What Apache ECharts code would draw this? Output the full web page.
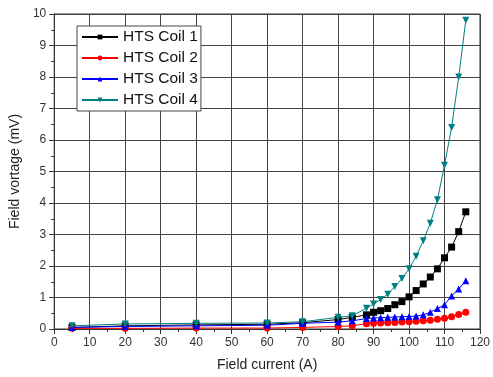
<!DOCTYPE html>
<html>
<head>
<meta charset="utf-8">
<script src="https://cdn.jsdelivr.net/npm/echarts@6/dist/echarts.min.js"></script>
<style>
  html, body { margin: 0; padding: 0; background: #fff; }
  #chart { width: 493px; height: 377px; }
</style>
</head>
<body>
<div id="chart"></div>
<script>
// field current (A)
var current = [5, 20, 40, 60, 70, 80, 84, 88, 90, 92, 94, 96, 98, 100, 102, 104, 106, 108, 110, 112, 114, 116];

// field voltage (mV) per coil
var coil1 = [0.05, 0.10, 0.13, 0.15, 0.20, 0.30, 0.37, 0.45, 0.53, 0.58, 0.65, 0.77, 0.87, 1.02, 1.22, 1.43, 1.65, 1.91, 2.26, 2.60, 3.09, 3.72];
var coil2 = [0.02, 0.02, 0.03, 0.03, 0.05, 0.08, 0.10, 0.17, 0.18, 0.19, 0.20, 0.21, 0.22, 0.23, 0.25, 0.26, 0.28, 0.31, 0.34, 0.39, 0.46, 0.53];
var coil3 = [0.05, 0.08, 0.10, 0.12, 0.18, 0.22, 0.26, 0.33, 0.35, 0.36, 0.37, 0.38, 0.39, 0.40, 0.41, 0.45, 0.53, 0.65, 0.77, 1.05, 1.27, 1.53];
var coil4 = [0.10, 0.16, 0.18, 0.19, 0.23, 0.37, 0.42, 0.66, 0.79, 0.94, 1.10, 1.35, 1.60, 1.91, 2.31, 2.80, 3.36, 4.10, 5.20, 6.40, 8.00, 9.80];

var names = ['HTS Coil 1', 'HTS Coil 2', 'HTS Coil 3', 'HTS Coil 4'];
var colors = ['#000000', '#ff0000', '#0000ff', '#008080'];

function pairs(vals) {
  return current.map(function (c, i) { return [c, vals[i]]; });
}

function makeSeries(idx, vals, symbol, rotate) {
  return {
    name: names[idx],
    type: 'line',
    data: pairs(vals),
    symbol: symbol,
    symbolSize: 7,
    symbolRotate: rotate || 0,
    lineStyle: { width: 1, color: colors[idx] },
    itemStyle: { color: colors[idx] },
    z: 3 + idx
  };
}

var chart = echarts.init(document.getElementById('chart'), null, { renderer: 'canvas' });

var axisFont = { fontFamily: 'Liberation Sans, Arial, sans-serif', color: '#333', fontSize: 12 };

var option = {
  animation: false,
  backgroundColor: '#fff',
  color: colors,
  grid: {
    left: 53, right: 10, top: 14, bottom: 47,
    show: true, borderColor: '#333', borderWidth: 1
  },
  legend: {
    orient: 'vertical',
    left: 77, top: 26,
    itemWidth: 36, itemHeight: 6, itemGap: 5,
    padding: [3, 3, 3, 4],
    borderColor: '#444', borderWidth: 1,
    backgroundColor: '#fff',
    textStyle: { fontFamily: 'Liberation Sans, Arial, sans-serif', fontSize: 15.5, color: '#111' },
    data: names
  },
  xAxis: {
    type: 'value',
    min: 0, max: 120, interval: 10,
    name: 'Field current (A)',
    nameLocation: 'middle',
    nameGap: 29,
    nameTextStyle: { fontFamily: 'Liberation Sans, Arial, sans-serif', fontSize: 14, color: '#222' },
    axisLine: { lineStyle: { color: '#333' } },
    axisTick: { length: 5, lineStyle: { color: '#333' } },
    minorTick: { show: true, splitNumber: 2, length: 3, lineStyle: { color: '#333' } },
    axisLabel: axisFont,
    splitLine: { show: true, lineStyle: { color: '#444', width: 1 } }
  },
  yAxis: {
    type: 'value',
    min: 0, max: 10, interval: 1,
    name: 'Field vortage (mV)',
    nameLocation: 'middle',
    nameGap: 27,
    nameTextStyle: { fontFamily: 'Liberation Sans, Arial, sans-serif', fontSize: 14, color: '#222' },
    axisLine: { show: true, lineStyle: { color: '#333' } },
    axisTick: { show: true, length: 5, lineStyle: { color: '#333' } },
    minorTick: { show: true, splitNumber: 2, length: 3, lineStyle: { color: '#333' } },
    axisLabel: axisFont,
    splitLine: { show: true, lineStyle: { color: '#444', width: 1 } }
  },
  series: [
    makeSeries(0, coil1, 'rect'),
    makeSeries(1, coil2, 'circle'),
    makeSeries(2, coil3, 'triangle'),
    makeSeries(3, coil4, 'triangle', 180)
  ]
};

chart.setOption(option);
</script>
</body>
</html>
